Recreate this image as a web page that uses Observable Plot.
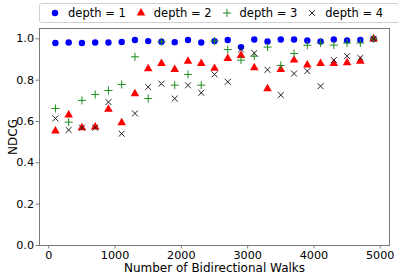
<!DOCTYPE html>
<html>
<head>
<meta charset="utf-8">
<script src="https://cdn.jsdelivr.net/npm/d3@7"></script>
<script src="https://cdn.jsdelivr.net/npm/@observablehq/plot@0.6"></script>
<style>
  html, body { margin: 0; padding: 0; background: #fff; }
  body { width: 399px; height: 278px; overflow: hidden; font-family: "DejaVu Sans", sans-serif; }
  #legend {
    height: 26px; position: relative;
  }
  #legend .box {
    position: absolute; left: 39px; top: 3px; width: 349px; height: 18px;
    border: 1px solid #d0d0d0; border-radius: 3px;
    display: flex; align-items: center; font-size: 11.5px; color: #000;
    padding-left: 10px; box-sizing: content-box;
  }
  #legend .item { display: flex; align-items: center; margin-right: 10px; }
  #legend .item svg { margin-right: 8px; }
</style>
</head>
<body>
<div id="legend"><div class="box"></div></div>
<div id="chart"></div>
<script>
const walks = [100, 300, 500, 700, 900, 1100, 1300, 1500, 1700, 1900, 2100, 2300, 2500,
               2700, 2900, 3100, 3300, 3500, 3700, 3900, 4100, 4300, 4500, 4700, 4900];
const depth1 = [0.980, 0.982, 0.980, 0.982, 0.982, 0.985, 0.994, 0.989, 0.986, 0.984, 0.994, 0.982, 0.989,
                0.994, 0.960, 0.997, 0.987, 0.997, 0.997, 0.992, 0.987, 0.997, 0.992, 0.994, 1.000];
const depth2 = [0.554, 0.631, 0.570, 0.573, 0.659, 0.594, 0.734, 0.855, 0.881, 0.852, 0.892, 0.881, 0.857,
                0.905, 0.919, 0.860, 0.758, 0.852, 0.897, 0.873, 0.881, 0.881, 0.884, 0.892, 1.000];
const depth3 = [0.663, 0.597, 0.702, 0.731, 0.750, 0.779, 0.913, 0.711, 0.986, 0.776, 0.828, 0.776, 0.989,
                0.948, 0.897, 0.916, 0.960, 0.871, 0.929, 0.969, 0.980, 0.970, 0.980, 0.980, 1.000];
const depth4 = [0.615, 0.559, 0.570, 0.570, 0.694, 0.541, 0.639, 0.767, 0.783, 0.711, 0.775, 0.739, 0.828,
                0.792, 0.948, 0.931, 0.850, 0.728, 0.832, 0.844, 0.771, 0.897, 0.916, 0.908, 1.000];
const seriesNames = ["depth = 1", "depth = 2", "depth = 3", "depth = 4"];
const xTicks = [0, 1000, 2000, 3000, 4000, 5000];
const yTicks = [0.0, 0.2, 0.4, 0.6, 0.8, 1.0];

const styles = [
  {symbol: "circle", fill: "#0000ff", stroke: "none", r: 3.2, sw: 0},
  {symbol: "triangle", fill: "#ff0000", stroke: "none", r: 3.2, sw: 0},
  {symbol: "plus", fill: "none", stroke: "#1e8c1e", r: 2.7, sw: 1},
  {symbol: "times", fill: "none", stroke: "#222222", r: 2.8, sw: 1}
];
const allSeries = [depth1, depth2, depth3, depth4];
const data = allSeries.map((vals, i) => walks.map((w, j) => ({walks: w, ndcg: vals[j], series: seriesNames[i]})));

const frameColor = "#7a7a7a";
const chart = Plot.plot({
  width: 399,
  height: 252,
  marginLeft: 39,
  marginRight: 10,
  marginTop: 2,
  marginBottom: 33,
  style: {fontFamily: "DejaVu Sans, sans-serif", fontSize: "11.2px", color: "#000", background: "#fff"},
  x: {domain: [-140, 5140]},
  y: {domain: [0, 1.05]},
  marks: [
    Plot.frame({stroke: frameColor, strokeWidth: 1}),
    Plot.axisX({ticks: xTicks, tickSize: 3.5, tickPadding: 2, stroke: frameColor, tickFormat: d3.format("d"), label: null}),
    Plot.axisX({ticks: [], label: "Number of Bidirectional Walks", labelAnchor: "center", labelOffset: 26,
      labelArrow: "none", fontSize: "12px", tickSize: 0}),
    Plot.axisY({ticks: yTicks, tickSize: 3.5, tickPadding: 2, stroke: frameColor, tickFormat: d3.format(".1f"), label: null}),
    Plot.axisY({ticks: [], label: "NDCG", labelAnchor: "center", labelOffset: 31, labelArrow: "none",
      fontSize: "12px", tickSize: 0}),
    ...data.map((d, i) => Plot.dot(d, {
      x: "walks", y: "ndcg", symbol: styles[i].symbol, r: styles[i].r,
      fill: styles[i].fill, stroke: styles[i].stroke, strokeWidth: styles[i].sw
    }))
  ]
});
document.getElementById("chart").appendChild(chart);

// Legend
const box = document.querySelector("#legend .box");
seriesNames.forEach((name, i) => {
  const item = document.createElement("div");
  item.className = "item";
  const sym = d3.symbol(
    {circle: d3.symbolCircle, triangle: d3.symbolTriangle, plus: d3.symbolPlus, times: d3.symbolTimes}[styles[i].symbol],
    Math.PI * styles[i].r * styles[i].r
  )();
  const s = d3.create("svg").attr("width", 10).attr("height", 10);
  s.append("path").attr("transform", "translate(5,5)").attr("d", sym)
    .attr("fill", styles[i].fill).attr("stroke", styles[i].stroke).attr("stroke-width", styles[i].sw);
  item.appendChild(s.node());
  const t = document.createElement("span");
  t.textContent = name;
  item.appendChild(t);
  box.appendChild(item);
});
</script>
</body>
</html>
